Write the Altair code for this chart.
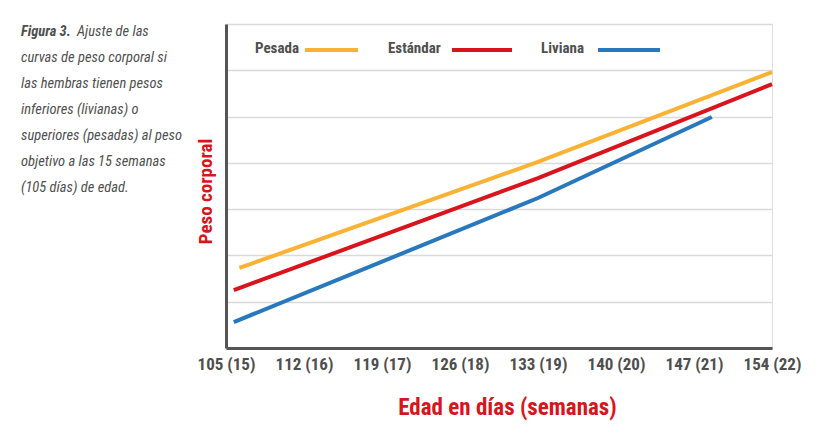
import altair as alt
import pandas as pd

# ---- data (x: edad en días, y: peso en unidades de cuadrícula) ----
series_names = ["Pesada", "Estándar", "Liviana"]
series_colors = ["#f9b233", "#d8141c", "#2878be"]

days_pesada = [106.2, 133.0, 154.0]
peso_pesada = [1.73, 4.02, 5.96]

days_estandar = [105.7, 133.0, 154.0]
peso_estandar = [1.25, 3.67, 5.70]

days_liviana = [105.7, 133.0, 148.6]
peso_liviana = [0.56, 3.24, 4.99]

x_ticks = [105, 112, 119, 126, 133, 140, 147, 154]
y_grid = [0, 1, 2, 3, 4, 5, 6, 7]

caption_bold = "Figura 3."
caption_first = "Ajuste de las"
caption_rest = [
    "curvas de peso corporal si",
    "las hembras tienen pesos",
    "inferiores (livianas) o",
    "superiores (pesadas) al peso",
    "objetivo a las 15 semanas",
    "(105 días) de edad.",
]

rows = []
for name, xs, ys in zip(series_names,
                        [days_pesada, days_estandar, days_liviana],
                        [peso_pesada, peso_estandar, peso_liviana]):
    for x, y in zip(xs, ys):
        rows.append({"serie": name, "dias": x, "peso": y})
df = pd.DataFrame(rows)

FONT = "Roboto Condensed, Noto Sans Condensed, Liberation Sans Narrow, Liberation Sans, sans-serif"
GRAY = "#4f4f4f"
RED = "#d8141c"

lines = alt.Chart(df).mark_line(strokeWidth=4, strokeCap="butt").encode(
    x=alt.X(
        "dias:Q",
        scale=alt.Scale(domain=[105, 154], nice=False, zero=False),
        axis=alt.Axis(
            values=x_ticks,
            labelExpr="datum.value + ' (' + (datum.value / 7) + ')'",
            grid=False, ticks=False,
            domainColor="#555555", domainWidth=3,
            labelFont=FONT, labelFontSize=17, labelFontWeight="bold",
            labelColor=GRAY, labelPadding=8, labelFlush=False,
            title="Edad en días (semanas)",
            titleFont=FONT, titleFontSize=23, titleFontWeight="bold",
            titleColor=RED, titlePadding=24, titleX=281,
        ),
    ),
    y=alt.Y(
        "peso:Q",
        scale=alt.Scale(domain=[0, 7], nice=False, zero=True),
        axis=alt.Axis(
            values=y_grid, labels=False, ticks=False,
            grid=True, gridColor="#dadada", gridWidth=1.5,
            domainColor="#555555", domainWidth=3,
            title="Peso corporal",
            titleFont=FONT, titleFontSize=19, titleFontWeight="bold",
            titleColor=RED, titlePadding=11, titleY=167,
        ),
    ),
    color=alt.Color("serie:N", scale=alt.Scale(domain=series_names, range=series_colors), legend=None),
)

one = pd.DataFrame({"k": [0]})

# ---- legend (label followed by a line sample) ----
legend_text_x = [29, 162, 315]
legend_line_x = [(79, 132), (226, 286), (372, 434)]
legend_layers = []
for name, color, tx, (l0, l1) in zip(series_names, series_colors, legend_text_x, legend_line_x):
    legend_layers.append(
        alt.Chart(one).mark_text(
            text=name, font=FONT, fontSize=15, fontWeight="bold", color=GRAY,
            align="left", baseline="middle",
        ).encode(x=alt.value(tx), y=alt.value(24))
    )
    legend_layers.append(
        alt.Chart(one).mark_rule(strokeWidth=4, color=color).encode(
            x=alt.value(l0), x2=alt.value(l1), y=alt.value(26)
        )
    )

# ---- caption on the left ----
cap_bold = alt.Chart(one).mark_text(
    text=caption_bold, font=FONT, fontSize=14.5, fontWeight="bold", fontStyle="italic",
    color=GRAY, align="left", baseline="middle",
).encode(x=alt.value(-205), y=alt.value(8))
cap_first = alt.Chart(one).mark_text(
    text=caption_first, font=FONT, fontSize=14.5, fontStyle="italic",
    color=GRAY, align="left", baseline="middle",
).encode(x=alt.value(-149), y=alt.value(8))
cap_rest = alt.Chart(one).mark_text(
    text=caption_rest, font=FONT, fontSize=14.5, fontStyle="italic", lineHeight=26,
    color=GRAY, align="left", baseline="top",
).encode(x=alt.value(-205), y=alt.value(27))

chart = alt.layer(lines, *legend_layers, cap_bold, cap_first, cap_rest).properties(
    width=546, height=324,
    autosize=alt.AutoSizeParams(type="none"),
    padding={"left": 218, "top": 16, "right": 55, "bottom": 90},
).configure_view(stroke=None).configure(background="white")

chart.save("out.html", embed_options={"renderer": "svg", "actions": False})
